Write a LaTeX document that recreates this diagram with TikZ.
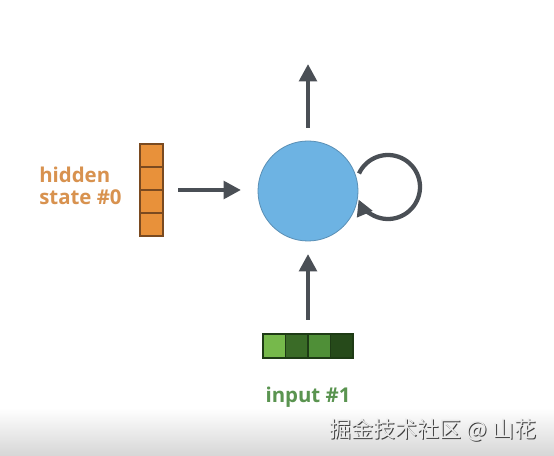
\documentclass[tikz,border=0pt]{standalone}
\usepackage{fontspec}
\setmainfont{Open Sans}
\newfontfamily\cjk{Noto Sans CJK SC}
\usetikzlibrary{arrows.meta}
\definecolor{arrowgray}{HTML}{4A4F55}
\definecolor{cellorange}{HTML}{E8913A}
\definecolor{celledge}{HTML}{7A4A20}
\definecolor{txtorange}{HTML}{D8924F}
\definecolor{nodeblue}{HTML}{6DB3E3}
\definecolor{nodeedge}{HTML}{5A8FB5}
\definecolor{gA}{HTML}{76B94B}
\definecolor{gB}{HTML}{3A6B27}
\definecolor{gC}{HTML}{4F8F37}
\definecolor{gD}{HTML}{264A1A}
\definecolor{txtgreen}{HTML}{5A9450}
\definecolor{bandgray}{HTML}{D6D6D6}
\tikzset{
  conn/.style={draw=arrowgray, line width=3.2pt, -{Triangle[length=13pt,width=13pt]}},
  lbl/.style={font=\bfseries\fontsize{15.3pt}{16.5pt}\selectfont, inner sep=0pt},
}
\begin{document}
\begin{tikzpicture}[x=0.75pt,y=-0.75pt]
\useasboundingbox (0,0) rectangle (554,456);
\fill[white] (0,0) rectangle (554,456);
\shade[top color=white, bottom color=bandgray] (0,408) rectangle (554,456);
% RNN node
\node[circle, fill=nodeblue, draw=nodeedge, line width=0.6pt, minimum size=75pt, inner sep=0pt] (rnn) at (308,191) {};
% output arrow
\coordinate (outtip) at (308,64);
\coordinate (outbase) at (308,128);
\draw[conn] (outbase) -- (outtip);
% hidden state vector
\foreach \i in {0,1,2,3}{
  \draw[fill=cellorange, draw=celledge, line width=1pt] (140,{144+23*\i}) rectangle (163,{144+23*(\i+1)});
}
\node[inner sep=0pt, minimum width=17.25pt, minimum height=69pt] (hvec) at (151.5,190) {};
\node[lbl, text=txtorange, align=left, anchor=west] (htext) at (39,186) {hidden\\state \#0};
\coordinate (hbase) at (178,190);
\coordinate (htip) at (241,190);
\draw[conn] (hbase) -- (htip);
% input vector
\draw[fill=gA, draw=gD!80!black, line width=1pt] (263,334) rectangle (285.5,358);
\draw[fill=gB, draw=gD!80!black, line width=1pt] (285.5,334) rectangle (308,358);
\draw[fill=gC, draw=gD!80!black, line width=1pt] (308,334) rectangle (330.5,358);
\draw[fill=gD, draw=gD!80!black, line width=1pt] (330.5,334) rectangle (353,358);
\node[inner sep=0pt, minimum width=67.5pt, minimum height=18pt] (ivec) at (308,346) {};
\coordinate (ibase) at (308,320);
\coordinate (itip) at (308,254);
\draw[conn] (ibase) -- (itip);
\node[lbl, text=txtgreen] (itext) at (308,397) {input \#1};
% self loop
\coordinate (lc) at (388,187);
\draw[draw=arrowgray, line width=3.2pt, -{Triangle[length=12pt,width=12pt]}]
  ([shift={(205:32)}]lc) arc[start angle=205, end angle=517, radius=32];
% watermark
\node[font=\cjk\fontsize{16.5pt}{16.5pt}\selectfont, text=black!75, inner sep=0pt] (wm0) at (434,431) {掘金技术社区 @ 山花};
\node[font=\cjk\fontsize{16.5pt}{16.5pt}\selectfont, text=black!8, inner sep=0pt] (wm) at (433,430) {掘金技术社区 @ 山花};
\end{tikzpicture}
\end{document}
